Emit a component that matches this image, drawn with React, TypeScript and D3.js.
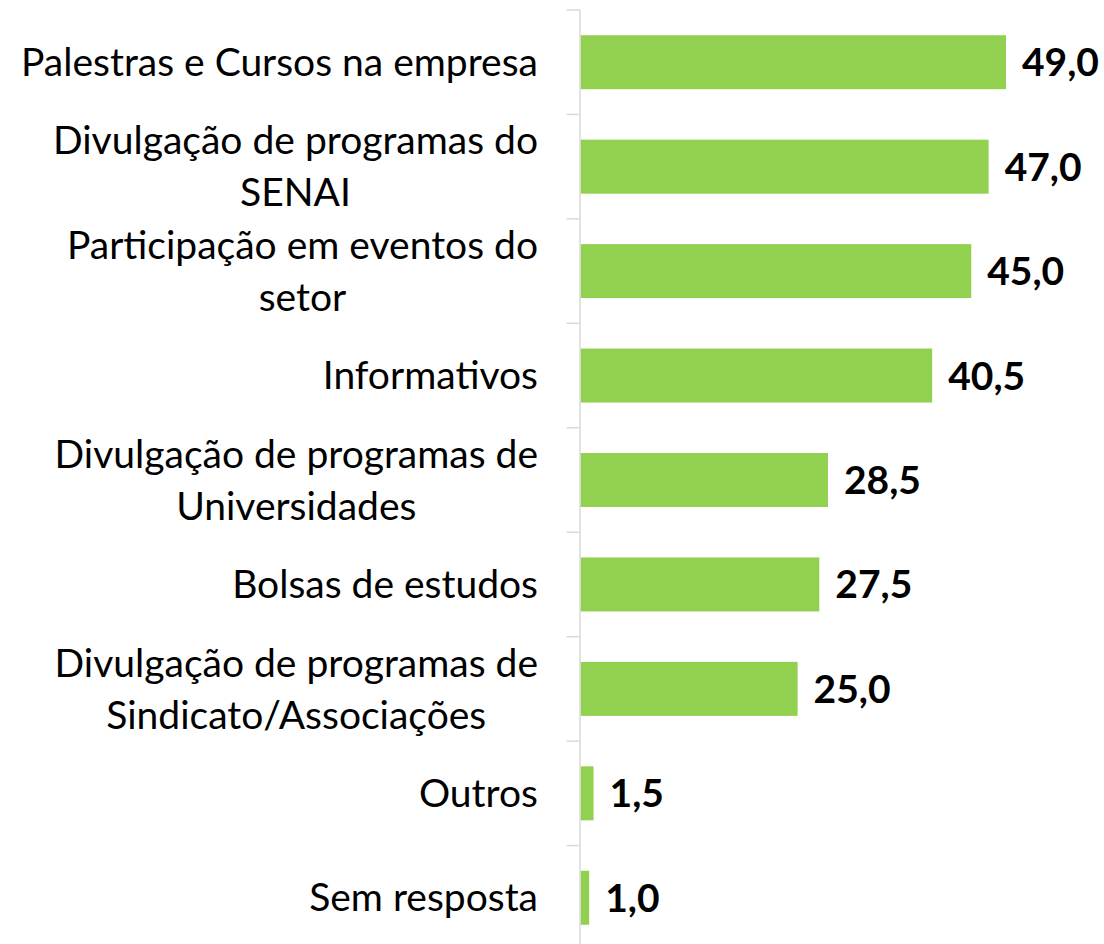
import React, { useEffect, useRef } from "react";
import * as d3 from "d3";

const categories: string[] = [
  "Palestras e Cursos na empresa",
  "Divulgação de programas do\nSENAI",
  "Participação em eventos do\nsetor",
  "Informativos",
  "Divulgação de programas de\nUniversidades",
  "Bolsas de estudos",
  "Divulgação de programas de\nSindicato/Associações",
  "Outros",
  "Sem resposta",
];
const values: number[] = [49.0, 47.0, 45.0, 40.5, 28.5, 27.5, 25.0, 1.5, 1.0];

const W = 1104;
const H = 944;
const AXIS_X = 580.5;
const TOP = 10;
const BOTTOM = 950;
const LABEL_FONT = "Lato, 'Open Sans', sans-serif";

export default function App() {
  const ref = useRef<SVGSVGElement | null>(null);

  useEffect(() => {
    const svg = d3.select(ref.current);
    svg.selectAll("*").remove();

    const y = d3
      .scaleBand<string>()
      .domain(categories)
      .range([TOP, BOTTOM])
      .paddingInner(0.483)
      .paddingOuter(0.2415);
    const x = d3.scaleLinear().domain([0, 49]).range([AXIS_X, 1006]);
    const step = y.step();

    // bars
    svg
      .append("g")
      .selectAll("rect")
      .data(categories)
      .join("rect")
      .attr("x", AXIS_X)
      .attr("y", (d) => y(d)!)
      .attr("width", (_d, i) => x(values[i]) - AXIS_X)
      .attr("height", y.bandwidth())
      .attr("fill", "#92D050");

    // axis line and ticks
    const axis = svg.append("g").attr("stroke", "#d9d9d9").attr("stroke-width", 1.5);
    axis.append("line").attr("x1", AXIS_X - 0.5).attr("x2", AXIS_X - 0.5).attr("y1", TOP).attr("y2", BOTTOM);
    const bounds = d3.range(categories.length + 1).map((i) => TOP + i * step);
    axis
      .selectAll("line.tick")
      .data(bounds)
      .join("line")
      .attr("class", "tick")
      .attr("x1", AXIS_X - 14)
      .attr("x2", AXIS_X - 0.5)
      .attr("y1", (d) => d)
      .attr("y2", (d) => d);

    // category labels
    const labels = svg.append("g").attr("font-family", LABEL_FONT).attr("font-size", 39).attr("fill", "#000");
    categories.forEach((cat) => {
      const lines = cat.split("\n");
      const cy = y(cat)! + y.bandwidth() / 2;
      const g = labels.append("g");
      const texts = lines.map((ln, j) =>
        g
          .append("text")
          .attr("y", cy + (j - (lines.length - 1) / 2) * 52)
          .attr("dy", "0.35em")
          .text(ln)
      );
      const widths = texts.map((t) => (t.node() as SVGTextElement).getComputedTextLength());
      const maxW = Math.max(...widths);
      const right = 538;
      if (lines.length === 1) {
        texts[0].attr("x", right).attr("text-anchor", "end");
      } else {
        texts.forEach((t) => t.attr("x", right - maxW / 2).attr("text-anchor", "middle"));
      }
    });

    // value labels
    svg
      .append("g")
      .attr("font-family", LABEL_FONT)
      .attr("font-weight", "bold")
      .attr("font-size", 39)
      .selectAll("text")
      .data(categories)
      .join("text")
      .attr("x", (_d, i) => x(values[i]) + 16)
      .attr("y", (d) => y(d)! + y.bandwidth() / 2)
      .attr("dy", "0.36em")
      .attr("fill", "#000")
      .text((_d, i) => d3.format(".1f")(values[i]).replace(".", ","));
  }, []);

  return (
    <svg
      ref={ref}
      width={W}
      height={H}
      style={{ position: "absolute", left: 0, top: 0, background: "#fff" }}
    />
  );
}
